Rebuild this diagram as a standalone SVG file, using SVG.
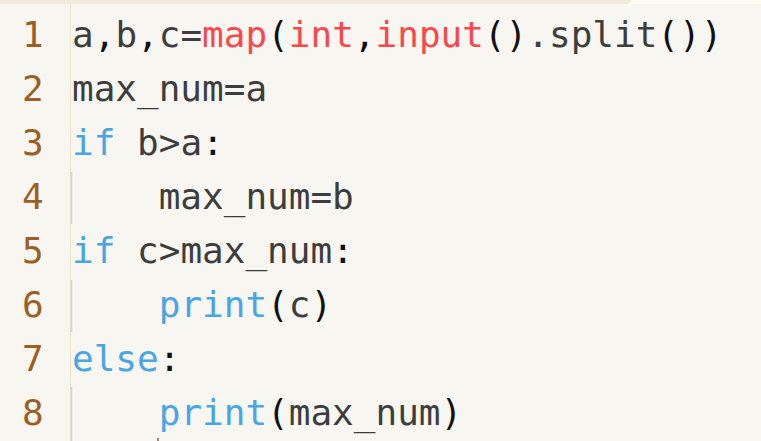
<svg xmlns="http://www.w3.org/2000/svg" width="761" height="441" viewBox="0 0 761 441">
<style>
text{font-family:"DejaVu Sans Mono","Liberation Mono",monospace;font-size:36px;fill:#3d3d3d;white-space:pre}
.ln{fill:#9b5f24}
.k{fill:#4aa5e4}
.f{fill:#fa474b}
.p{fill:#111111}
</style>
<rect x="0" y="0" width="761" height="441" fill="#f8f6f1"/>
<rect x="600" y="0" width="161" height="4" fill="#fdfcf4"/>
<polygon points="0,0 632,0 628,4 0,4" fill="#f2ead8"/>
<line x1="70.5" y1="4" x2="70.5" y2="441" stroke="#efe4c6" stroke-width="1"/>
<g id="indent-guides" stroke="#d9d3c8" stroke-width="1.5">
<line x1="71.5" y1="172" x2="71.5" y2="224"/>
<line x1="71.5" y1="280" x2="71.5" y2="332"/>
<line x1="71.5" y1="387" x2="71.5" y2="441"/>
</g>
<g id="line-numbers">
<text class="ln" x="22" y="47">1</text>
<text class="ln" x="22" y="101">2</text>
<text class="ln" x="22" y="155">3</text>
<text class="ln" x="22" y="209">4</text>
<text class="ln" x="22" y="263">5</text>
<text class="ln" x="22" y="317">6</text>
<text class="ln" x="22" y="371">7</text>
<text class="ln" x="22" y="425">8</text>
</g>
<g id="code">
<text x="72" y="47">a<tspan class="p">,</tspan>b<tspan class="p">,</tspan>c=<tspan class="f">map</tspan><tspan class="p">(</tspan><tspan class="f">int</tspan><tspan class="p">,</tspan><tspan class="f">input</tspan><tspan class="p">()</tspan>.split<tspan class="p">())</tspan></text>
<text x="72" y="101">max_num=a</text>
<text x="72" y="155"><tspan class="k">if</tspan> b&gt;a<tspan class="p">:</tspan></text>
<text x="72" y="209">    max_num=b</text>
<text x="72" y="263"><tspan class="k">if</tspan> c&gt;max_num<tspan class="p">:</tspan></text>
<text x="72" y="317">    <tspan class="k">print</tspan><tspan class="p">(</tspan>c<tspan class="p">)</tspan></text>
<text x="72" y="371"><tspan class="k">else</tspan><tspan class="p">:</tspan></text>
<text x="72" y="425">    <tspan class="k">print</tspan><tspan class="p">(</tspan>max_num<tspan class="p">)</tspan></text>
</g>
<line x1="158" y1="438" x2="158" y2="441" stroke="#9b5f24" stroke-width="1.5"/>
</svg>
